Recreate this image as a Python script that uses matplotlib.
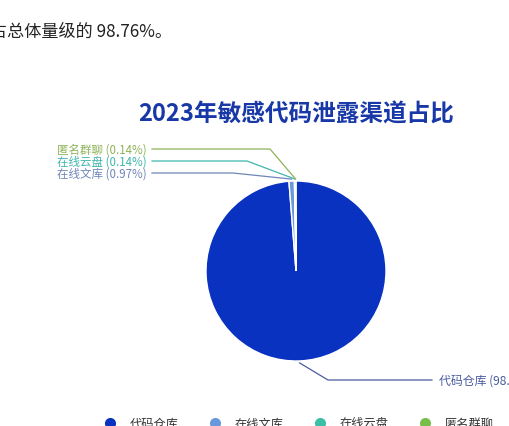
import numpy as np
import matplotlib
matplotlib.use("Agg")
import matplotlib.pyplot as plt

plt.rcParams["font.family"] = ["Noto Sans CJK SC", "DejaVu Sans"]

# data
channels = ["代码仓库", "在线文库", "在线云盘", "匿名群聊"]
shares = [98.76, 0.97, 0.14, 0.14]
colors = ["#0a32c0", "#6a98dc", "#3bbfa6", "#78bf4a"]
label_colors = ["#4a5c9e", "#6f86b8", "#3fb6ad", "#8fb25a"]
title = "2023年敏感代码泄露渠道占比"
intro = "占总体量级的 98.76%。"

W, H = 510, 427
fig = plt.figure(figsize=(W / 100, H / 100), dpi=100)
ax = fig.add_axes([0, 0, 1, 1])


def Y(y):
    # pixel row (from top) -> data y
    return H - y


cx, cy, r = 296, 272, 90
wedges, _ = ax.pie(shares, colors=colors, startangle=90, counterclock=False,
                   center=(cx, Y(cy)), radius=r,
                   wedgeprops=dict(edgecolor="white", linewidth=1.0))
ax.set_xlim(0, W)
ax.set_ylim(0, H)
ax.set_aspect("equal")
ax.axis("off")

# leader lines + labels
elbows = {0: (328, 381, 432), 1: (233, 174, 152), 2: (247, 162, 152), 3: (270, 150, 152)}
for i, w in enumerate(wedges):
    mid = np.deg2rad((w.theta1 + w.theta2) / 2)
    sx = cx + (r + 2) * np.cos(mid)
    sy = Y(cy) + (r + 2) * np.sin(mid)
    ex, ey, hx = elbows[i]
    ax.plot([sx, ex, hx], [sy, Y(ey), Y(ey)], color=label_colors[i], lw=0.9)
    txt = f"{channels[i]} ({shares[i]:.2f}%)"
    if i == 0:
        ax.text(hx + 7, Y(ey), txt, ha="left", va="center", fontsize=8.6,
                color=label_colors[i])
    else:
        ax.text(hx - 5, Y(ey), txt, ha="right", va="center", fontsize=8.3,
                color=label_colors[i])

ax.text(296, Y(114), title, ha="center", va="center", fontsize=17,
        fontweight="heavy", color="#1838a8")
ax.text(-10, Y(32), intro, ha="left", va="center", fontsize=12.3, color="#222222")

# legend
leg_x = [110, 215, 320, 425]
for x, name, c in zip(leg_x, channels, colors):
    ax.plot(x, Y(424), "o", ms=8, color=c, mec="none")
    ax.text(x + 20, Y(424), name, ha="left", va="center", fontsize=8.8, color="#333333")

fig.savefig("out.png", dpi=100)
